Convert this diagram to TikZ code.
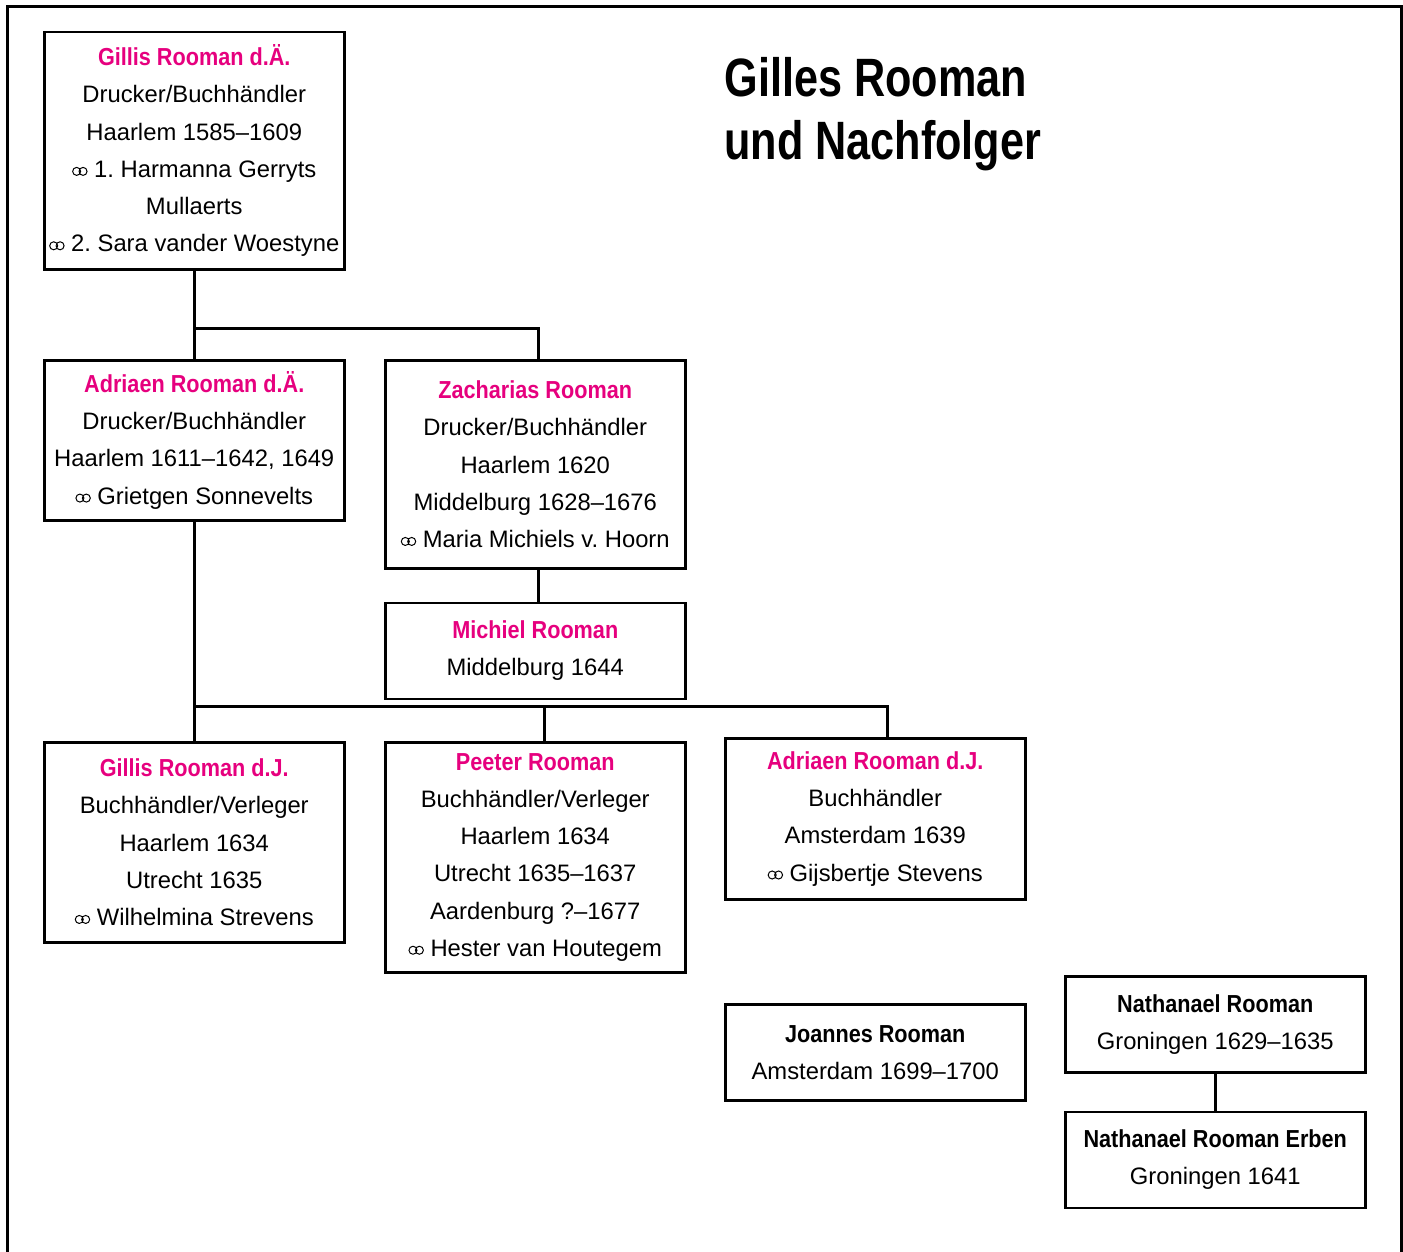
\documentclass[tikz,border=0pt]{standalone}
\usepackage{fontspec}
\setmainfont{Liberation Sans}
\newfontfamily\namefont[FakeStretch=0.88]{Liberation Sans}
\newfontfamily\headfont[FakeStretch=0.8]{Liberation Sans}
\usetikzlibrary{positioning,calc}
\definecolor{rooman}{RGB}{230,0,126}
\frenchspacing
\newcommand{\who}[1]{{\namefont\bfseries\fontsize{12.3}{18.6}\selectfont\color{rooman}#1}}
\newcommand{\firm}[1]{{\namefont\bfseries\fontsize{12.3}{18.6}\selectfont #1}}
% two rings for "married"
\newcommand{\wed}{\tikz[baseline=0pt]{\draw[line width=0.5pt] (2pt,3pt) circle[radius=2pt] (5.2pt,3pt) circle[radius=2pt];}\ }

\begin{document}
\begin{tikzpicture}[
    x=0.5pt, y=-0.5pt,
    person/.style={draw, line width=1.25pt, minimum width=150pt, inner sep=0pt, align=center,
        anchor=north west, font=\fontsize{11.9}{18.6}\selectfont},
    link/.style={line width=1.5pt},
    frame/.style={line width=1.5pt}
]
    \useasboundingbox (0,0) rectangle (1403,1252);
    % Frame, open at the bottom
    \draw[frame] (7,1252) -- (7,7) -- (1401,7) -- (1401,1252);

    % Title
    \node[anchor=north west, align=left, inner sep=0pt,
        font=\headfont\bfseries\fontsize{27}{31.5}\selectfont] (title) at (724,57)
        {Gilles Rooman\\und Nachfolger};

    % First and second generation
    \node[person, minimum height=118.5pt] (gillisA) at (43,31)
        {\who{Gillis Rooman d.Ä.}\\Drucker/Buchhändler\\Haarlem 1585–1609\\
         \wed 1. Harmanna Gerryts\\Mullaerts\\\wed 2. Sara vander Woestyne};
    \node[person, minimum height=80pt] (adriaenA) at (43,359)
        {\who{Adriaen Rooman d.Ä.}\\Drucker/Buchhändler\\Haarlem 1611–1642, 1649\\
         \wed Grietgen Sonnevelts};
    \node[person, minimum height=104pt] (zacharias) at (384,359)
        {\who{Zacharias Rooman}\\Drucker/Buchhändler\\Haarlem 1620\\Middelburg 1628–1676\\
         \wed Maria Michiels v. Hoorn};
    \node[person, minimum height=48pt, below=16pt of zacharias] (michiel)
        {\who{Michiel Rooman}\\Middelburg 1644};

    % Third generation
    \node[person, minimum height=100pt] (gillisJ) at (43,741)
        {\who{Gillis Rooman d.J.}\\Buchhändler/Verleger\\Haarlem 1634\\Utrecht 1635\\
         \wed Wilhelmina Strevens};
    \node[person, minimum height=115pt] (peeter) at (384,741)
        {\who{Peeter Rooman}\\Buchhändler/Verleger\\Haarlem 1634\\Utrecht 1635–1637\\
         Aardenburg ?–1677\\\wed Hester van Houtegem};
    \node[person, minimum height=80.5pt] (adriaenJ) at (724,737)
        {\who{Adriaen Rooman d.J.}\\Buchhändler\\Amsterdam 1639\\\wed Gijsbertje Stevens};

    % Other printers
    \node[person, minimum height=48pt] (joannes) at (724,1003)
        {\firm{Joannes Rooman}\\Amsterdam 1699–1700};
    \node[person, minimum height=48pt] (nathanael) at (1064,975)
        {\firm{Nathanael Rooman}\\Groningen 1629–1635};
    \node[person, minimum height=48pt, below=18.5pt of nathanael] (erben)
        {\firm{Nathanael Rooman Erben}\\Groningen 1641};

    % Lines of descent
    \coordinate (bar1) at ($(gillisA.south)!0.66!(adriaenA.north)$);
    \draw[link] (gillisA.south) -- (adriaenA.north);
    \draw[link] (bar1) -| ([xshift=1.5pt]zacharias.north);
    \draw[link] ([xshift=1.5pt]zacharias.south) -- ([xshift=1.5pt]michiel.north);
    \coordinate (bar2) at ($(gillisJ.north)+(0,-35)$);
    \draw[link] (adriaenA.south) -- (gillisJ.north);
    \draw[link] (bar2) -| ([xshift=4.5pt]peeter.north);
    \draw[link] (bar2) -| ([xshift=6pt]adriaenJ.north);
    \draw[link] (nathanael.south) -- (erben.north);
\end{tikzpicture}
\end{document}
